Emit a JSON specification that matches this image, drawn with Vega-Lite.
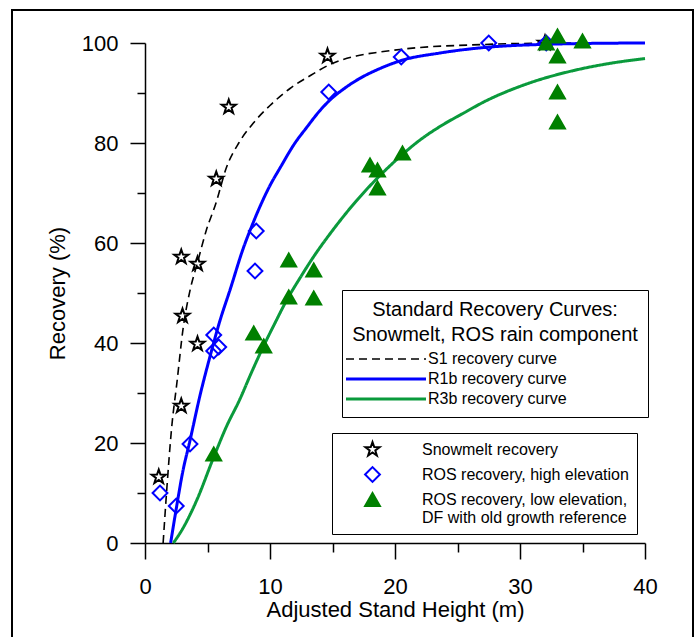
{
  "$schema": "https://vega.github.io/schema/vega-lite/v6.json",
  "usermeta": {"embedOptions": {"actions": false}},
  "width": 681,
  "height": 632,
  "autosize": "none",
  "padding": {"left": 12, "top": 10, "right": 6, "bottom": 0},
  "background": "white",
  "config": {
    "font": "Liberation Sans",
    "view": {"stroke": "black", "strokeWidth": 2},
    "axis": {"grid": false, "domainColor": "black", "tickColor": "black", "domainWidth": 1.5, "tickWidth": 1.5, "labelColor": "black", "titleColor": "black", "labelFont": "Liberation Sans", "titleFont": "Liberation Sans", "labelFontSize": 22, "titleFontSize": 22, "titleFontWeight": "normal", "labelFlush": false, "labelOverlap": false}
  },
  "datasets": {
    "curves": [
      {"c": "S1 recovery curve", "x": 1.45, "y": 0}, {"c": "S1 recovery curve", "x": 1.75, "y": 11}, {"c": "S1 recovery curve", "x": 2.13, "y": 23}, {"c": "S1 recovery curve", "x": 2.55, "y": 32}, {"c": "S1 recovery curve", "x": 3.07, "y": 43.3}, {"c": "S1 recovery curve", "x": 3.6, "y": 50.5}, {"c": "S1 recovery curve", "x": 4.19, "y": 56}, {"c": "S1 recovery curve", "x": 4.9, "y": 62.5}, {"c": "S1 recovery curve", "x": 5.68, "y": 68}, {"c": "S1 recovery curve", "x": 6.5, "y": 75}, {"c": "S1 recovery curve", "x": 7.5, "y": 80}, {"c": "S1 recovery curve", "x": 8.67, "y": 84}, {"c": "S1 recovery curve", "x": 10, "y": 87.5}, {"c": "S1 recovery curve", "x": 11.6, "y": 90.9}, {"c": "S1 recovery curve", "x": 13.3, "y": 93.6}, {"c": "S1 recovery curve", "x": 14.8, "y": 95.7}, {"c": "S1 recovery curve", "x": 16.9, "y": 97.4}, {"c": "S1 recovery curve", "x": 18.8, "y": 98.2}, {"c": "S1 recovery curve", "x": 22, "y": 99.1}, {"c": "S1 recovery curve", "x": 26, "y": 99.6}, {"c": "S1 recovery curve", "x": 30, "y": 99.9}, {"c": "S1 recovery curve", "x": 35, "y": 100}, {"c": "S1 recovery curve", "x": 40, "y": 100},
      {"c": "R1b recovery curve", "x": 2.05, "y": 0}, {"c": "R1b recovery curve", "x": 2.53, "y": 7.3}, {"c": "R1b recovery curve", "x": 3.0, "y": 14}, {"c": "R1b recovery curve", "x": 3.6, "y": 20.5}, {"c": "R1b recovery curve", "x": 4.4, "y": 29.5}, {"c": "R1b recovery curve", "x": 5.2, "y": 37.3}, {"c": "R1b recovery curve", "x": 6.0, "y": 44.5}, {"c": "R1b recovery curve", "x": 6.8, "y": 50.6}, {"c": "R1b recovery curve", "x": 7.87, "y": 59}, {"c": "R1b recovery curve", "x": 8.53, "y": 63.3}, {"c": "R1b recovery curve", "x": 9.2, "y": 67.3}, {"c": "R1b recovery curve", "x": 10, "y": 71.5}, {"c": "R1b recovery curve", "x": 10.8, "y": 75}, {"c": "R1b recovery curve", "x": 12, "y": 80}, {"c": "R1b recovery curve", "x": 12.9, "y": 83}, {"c": "R1b recovery curve", "x": 14, "y": 86.5}, {"c": "R1b recovery curve", "x": 14.8, "y": 88.6}, {"c": "R1b recovery curve", "x": 16, "y": 91}, {"c": "R1b recovery curve", "x": 16.9, "y": 92.5}, {"c": "R1b recovery curve", "x": 18.8, "y": 94.9}, {"c": "R1b recovery curve", "x": 20.5, "y": 96.5}, {"c": "R1b recovery curve", "x": 23.6, "y": 98}, {"c": "R1b recovery curve", "x": 27.6, "y": 99.2}, {"c": "R1b recovery curve", "x": 31.6, "y": 99.7}, {"c": "R1b recovery curve", "x": 35, "y": 99.9}, {"c": "R1b recovery curve", "x": 40, "y": 100},
      {"c": "R3b recovery curve", "x": 2.27, "y": 0}, {"c": "R3b recovery curve", "x": 3.0, "y": 2.8}, {"c": "R3b recovery curve", "x": 4.13, "y": 8.5}, {"c": "R3b recovery curve", "x": 5.47, "y": 17}, {"c": "R3b recovery curve", "x": 6.5, "y": 23.2}, {"c": "R3b recovery curve", "x": 7.6, "y": 28.8}, {"c": "R3b recovery curve", "x": 8.5, "y": 34}, {"c": "R3b recovery curve", "x": 9.47, "y": 39.3}, {"c": "R3b recovery curve", "x": 10.4, "y": 44}, {"c": "R3b recovery curve", "x": 11.3, "y": 48.4}, {"c": "R3b recovery curve", "x": 12.4, "y": 53}, {"c": "R3b recovery curve", "x": 13.5, "y": 57.3}, {"c": "R3b recovery curve", "x": 15, "y": 62.5}, {"c": "R3b recovery curve", "x": 16.9, "y": 68.4}, {"c": "R3b recovery curve", "x": 18.8, "y": 73.5}, {"c": "R3b recovery curve", "x": 20.5, "y": 77.5}, {"c": "R3b recovery curve", "x": 22, "y": 80.6}, {"c": "R3b recovery curve", "x": 23.6, "y": 83.3}, {"c": "R3b recovery curve", "x": 25.5, "y": 86}, {"c": "R3b recovery curve", "x": 27.1, "y": 88.2}, {"c": "R3b recovery curve", "x": 30.3, "y": 91.6}, {"c": "R3b recovery curve", "x": 34.3, "y": 94.5}, {"c": "R3b recovery curve", "x": 36.9, "y": 95.8}, {"c": "R3b recovery curve", "x": 40, "y": 96.9}
    ],
    "points": [
      {"s": "Snowmelt recovery", "x": 1.1, "y": 13.2}, {"s": "Snowmelt recovery", "x": 2.9, "y": 27.4}, {"s": "Snowmelt recovery", "x": 4.2, "y": 39.8}, {"s": "Snowmelt recovery", "x": 3.0, "y": 45.4}, {"s": "Snowmelt recovery", "x": 2.9, "y": 57.2}, {"s": "Snowmelt recovery", "x": 4.2, "y": 55.8}, {"s": "Snowmelt recovery", "x": 5.7, "y": 72.8}, {"s": "Snowmelt recovery", "x": 6.7, "y": 87.2}, {"s": "Snowmelt recovery", "x": 14.6, "y": 97.4}, {"s": "Snowmelt recovery", "x": 32, "y": 100},
      {"s": "ROS recovery, high elevation", "x": 1.2, "y": 10}, {"s": "ROS recovery, high elevation", "x": 2.5, "y": 7.4}, {"s": "ROS recovery, high elevation", "x": 3.6, "y": 19.8}, {"s": "ROS recovery, high elevation", "x": 5.5, "y": 41.6}, {"s": "ROS recovery, high elevation", "x": 5.9, "y": 39.2}, {"s": "ROS recovery, high elevation", "x": 5.5, "y": 38.4}, {"s": "ROS recovery, high elevation", "x": 8.8, "y": 54.4}, {"s": "ROS recovery, high elevation", "x": 8.9, "y": 62.4}, {"s": "ROS recovery, high elevation", "x": 14.7, "y": 90.2}, {"s": "ROS recovery, high elevation", "x": 20.5, "y": 97.2}, {"s": "ROS recovery, high elevation", "x": 27.5, "y": 100}, {"s": "ROS recovery, high elevation", "x": 32.1, "y": 100},
      {"s": "ROS recovery, low elevation", "x": 5.5, "y": 17.8}, {"s": "ROS recovery, low elevation", "x": 8.7, "y": 42}, {"s": "ROS recovery, low elevation", "x": 9.5, "y": 39.4}, {"s": "ROS recovery, low elevation", "x": 11.5, "y": 49.2}, {"s": "ROS recovery, low elevation", "x": 11.5, "y": 56.6}, {"s": "ROS recovery, low elevation", "x": 13.5, "y": 54.6}, {"s": "ROS recovery, low elevation", "x": 13.5, "y": 49}, {"s": "ROS recovery, low elevation", "x": 18, "y": 75.6}, {"s": "ROS recovery, low elevation", "x": 18.6, "y": 74.6}, {"s": "ROS recovery, low elevation", "x": 18.6, "y": 71}, {"s": "ROS recovery, low elevation", "x": 20.6, "y": 78}, {"s": "ROS recovery, low elevation", "x": 32.1, "y": 100}, {"s": "ROS recovery, low elevation", "x": 33, "y": 101.4}, {"s": "ROS recovery, low elevation", "x": 33, "y": 97.4}, {"s": "ROS recovery, low elevation", "x": 33, "y": 90.2}, {"s": "ROS recovery, low elevation", "x": 33, "y": 84.2}, {"s": "ROS recovery, low elevation", "x": 35, "y": 100.4}
    ]
  },
  "encoding": {
    "x": {"field": "x", "type": "quantitative", "scale": {"domain": [0, 40], "range": [133, 633], "nice": false, "zero": false},
      "axis": {"title": "Adjusted Stand Height (m)", "values": [0, 5, 10, 15, 20, 25, 30, 35, 40], "labelExpr": "datum.value % 10 === 0 ? datum.label : ''", "tickSize": {"condition": {"test": "datum.value % 10 === 0", "value": 16}, "value": 9}, "offset": -99, "labelPadding": 17, "titlePadding": 2}},
    "y": {"field": "y", "type": "quantitative", "scale": {"domain": [0, 100], "range": [533, 33], "nice": false, "zero": false},
      "axis": {"title": "Recovery (%)", "values": [0, 10, 20, 30, 40, 50, 60, 70, 80, 90, 100], "labelExpr": "datum.value % 20 === 0 ? datum.label : ''", "tickSize": {"condition": {"test": "datum.value % 20 === 0", "value": 15}, "value": 8}, "offset": -133, "labelPadding": 12, "titlePadding": 12}}
  },
  "layer": [
    {
      "data": {"name": "curves"},
      "mark": {"type": "line", "interpolate": "monotone", "clip": false},
      "encoding": {
        "color": {"field": "c", "type": "nominal", "sort": null,
          "scale": {"domain": ["S1 recovery curve", "R1b recovery curve", "R3b recovery curve"], "range": ["black", "#0000ff", "#0a9a3c"]},
          "legend": {"orient": "none", "legendX": 330, "legendY": 280, "title": ["Standard Recovery Curves:", "Snowmelt, ROS rain component"], "titleFontSize": 20, "titleFontWeight": "normal", "titleColor": "black", "titleAnchor": "middle", "titleAlign": "center", "titleLineHeight": 25, "titlePadding": 6, "titleLimit": 500, "labelLimit": 500, "labelFontSize": 16, "labelColor": "black", "symbolType": "M-4,0L4,0", "symbolSize": 400, "symbolStrokeWidth": 3, "symbolOffset": -46, "labelOffset": 34, "fillColor": "white", "strokeColor": "black", "padding": 10, "rowPadding": 4,
            "encode": {"symbols": {"update": {"strokeDash": {"signal": "datum.index === 0 ? [8, 5] : [1, 0]"}, "strokeWidth": {"signal": "datum.index === 0 ? 1.6 : 3"}}}}}},
        "strokeDash": {"field": "c", "type": "nominal", "sort": null,
          "scale": {"domain": ["S1 recovery curve", "R1b recovery curve", "R3b recovery curve"], "range": [[8, 5], [1, 0], [1, 0]]}},
        "strokeWidth": {"condition": {"test": "datum.c === 'S1 recovery curve'", "value": 1.6}, "value": 3}
      }
    },
    {
      "data": {"name": "points"},
      "mark": {"type": "point", "strokeWidth": 2, "size": 220, "opacity": 1, "clip": false},
      "encoding": {
        "fill": {"field": "s", "type": "nominal", "sort": null,
          "scale": {"domain": ["Snowmelt recovery", "ROS recovery, high elevation", "ROS recovery, low elevation"], "range": ["transparent", "transparent", "#008000"]},
          "legend": {"orient": "none", "legendX": 320, "legendY": 423, "title": null, "labelFontSize": 16, "labelColor": "black", "labelLimit": 500, "labelExpr": "datum.label === 'ROS recovery, low elevation' ? ['ROS recovery, low elevation,', 'DF with old growth reference'] : datum.label", "symbolOffset": 24, "labelOffset": 41, "fillColor": "white", "strokeColor": "black", "padding": 8, "rowPadding": 3, "symbolSize": 220, "symbolStrokeWidth": 2,
            "encode": {"labels": {"update": {"dy": {"signal": "datum.index === 2 ? -8 : 0"}}}}}},
        "stroke": {"field": "s", "type": "nominal", "sort": null,
          "scale": {"domain": ["Snowmelt recovery", "ROS recovery, high elevation", "ROS recovery, low elevation"], "range": ["black", "#0000ff", "#008000"]}},
        "shape": {"field": "s", "type": "nominal", "sort": null,
          "scale": {"domain": ["Snowmelt recovery", "ROS recovery, high elevation", "ROS recovery, low elevation"], "range": ["M0,-1L0.235,-0.324L0.951,-0.309L0.38,0.124L0.588,0.809L0,0.4L-0.588,0.809L-0.38,0.124L-0.951,-0.309L-0.235,-0.324Z", "diamond", "triangle-up"]}}
      }
    }
  ],
  "resolve": {"scale": {"color": "independent"}}
}
